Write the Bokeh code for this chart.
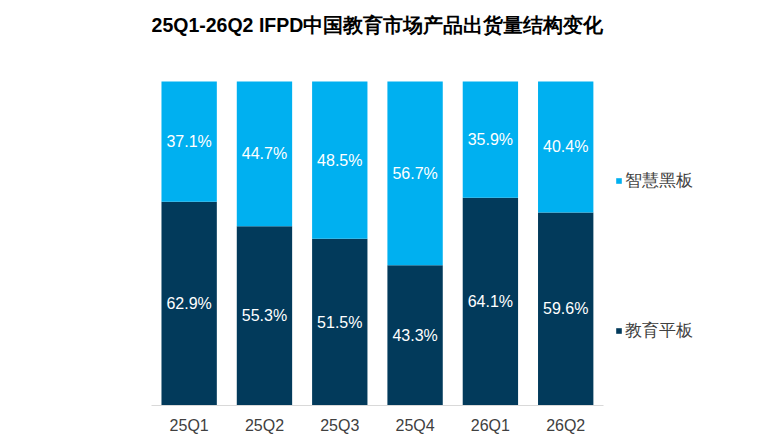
from bokeh.plotting import figure
from bokeh.models import ColumnDataSource, Range1d, Legend, LegendItem, Label, FixedTicker
from bokeh.core.properties import value
from bokeh.embed import file_html
from bokeh.resources import INLINE

quarters = ["25Q1", "25Q2", "25Q3", "25Q4", "26Q1", "26Q2"]
tablet = [62.9, 55.3, 51.5, 43.3, 64.1, 59.6]      # 教育平板
blackboard = [37.1, 44.7, 48.5, 56.7, 35.9, 40.4]  # 智慧黑板

DARK = "#023a5b"
LIGHT = "#00b0f0"
FONT = "Liberation Sans"

idx = list(range(len(quarters)))
src = ColumnDataSource(dict(
    x=idx,
    tablet=tablet,
    blackboard=blackboard,
    tablet_mid=[t / 2 for t in tablet],
    board_mid=[t + b / 2 for t, b in zip(tablet, blackboard)],
    tablet_lbl=["%.1f%%" % t for t in tablet],
    board_lbl=["%.1f%%" % b for b in blackboard],
))

# frame runs to the right edge so the title and legend sit inside it
p = figure(x_range=Range1d(-0.5, 7.56), y_range=Range1d(0, 125),
           width=758, height=436, output_backend="svg", toolbar_location=None,
           min_border_left=151, min_border_right=0, min_border_top=0, min_border_bottom=31)
p.outline_line_color = None
p.xgrid.grid_line_color = None
p.ygrid.grid_line_color = None
p.yaxis.visible = False

rs = p.vbar_stack(["tablet", "blackboard"], x="x", width=0.735, color=[DARK, LIGHT],
                  line_color=None, source=src)

p.text(x="x", y="tablet_mid", text="tablet_lbl", source=src, text_color="white",
       text_font=value(FONT), text_font_size="16px", text_align="center", text_baseline="middle")
p.text(x="x", y="board_mid", text="board_lbl", source=src, text_color="white",
       text_font=value(FONT), text_font_size="16px", text_align="center", text_baseline="middle")

ax = p.xaxis[0]
ax.ticker = FixedTicker(ticks=idx)
ax.major_label_overrides = {i: q for i, q in zip(idx, quarters)}
ax.bounds = (-0.5, len(quarters) - 0.5)
ax.axis_line_color = "#d9d9d9"
ax.major_tick_line_color = None
ax.minor_tick_line_color = None
ax.major_label_text_font = FONT
ax.major_label_text_font_size = "16px"
ax.major_label_text_color = "#404040"
ax.major_label_standoff = 5

title = Label(x=(len(quarters) - 1) / 2, y=117.3,
              text="25Q1-26Q2 IFPD中国教育市场产品出货量结构变化",
              text_font=FONT, text_font_size="19.5px", text_font_style="bold",
              text_color="#000000", text_align="center", text_baseline="middle")
p.add_layout(title)

lg = Legend(items=[LegendItem(label="智慧黑板", renderers=[rs[1]]),
                   LegendItem(label="教育平板", renderers=[rs[0]])],
            location=(464, 0), spacing=0,
            background_fill_alpha=0, border_line_color=None,
            label_text_font=FONT, label_text_font_size="17px", label_text_color="#404040",
            label_height=150, glyph_width=7, glyph_height=7, label_standoff=3,
            padding=0, margin=0)
p.add_layout(lg, "center")

open("out.html", "w").write(file_html(p, INLINE))
